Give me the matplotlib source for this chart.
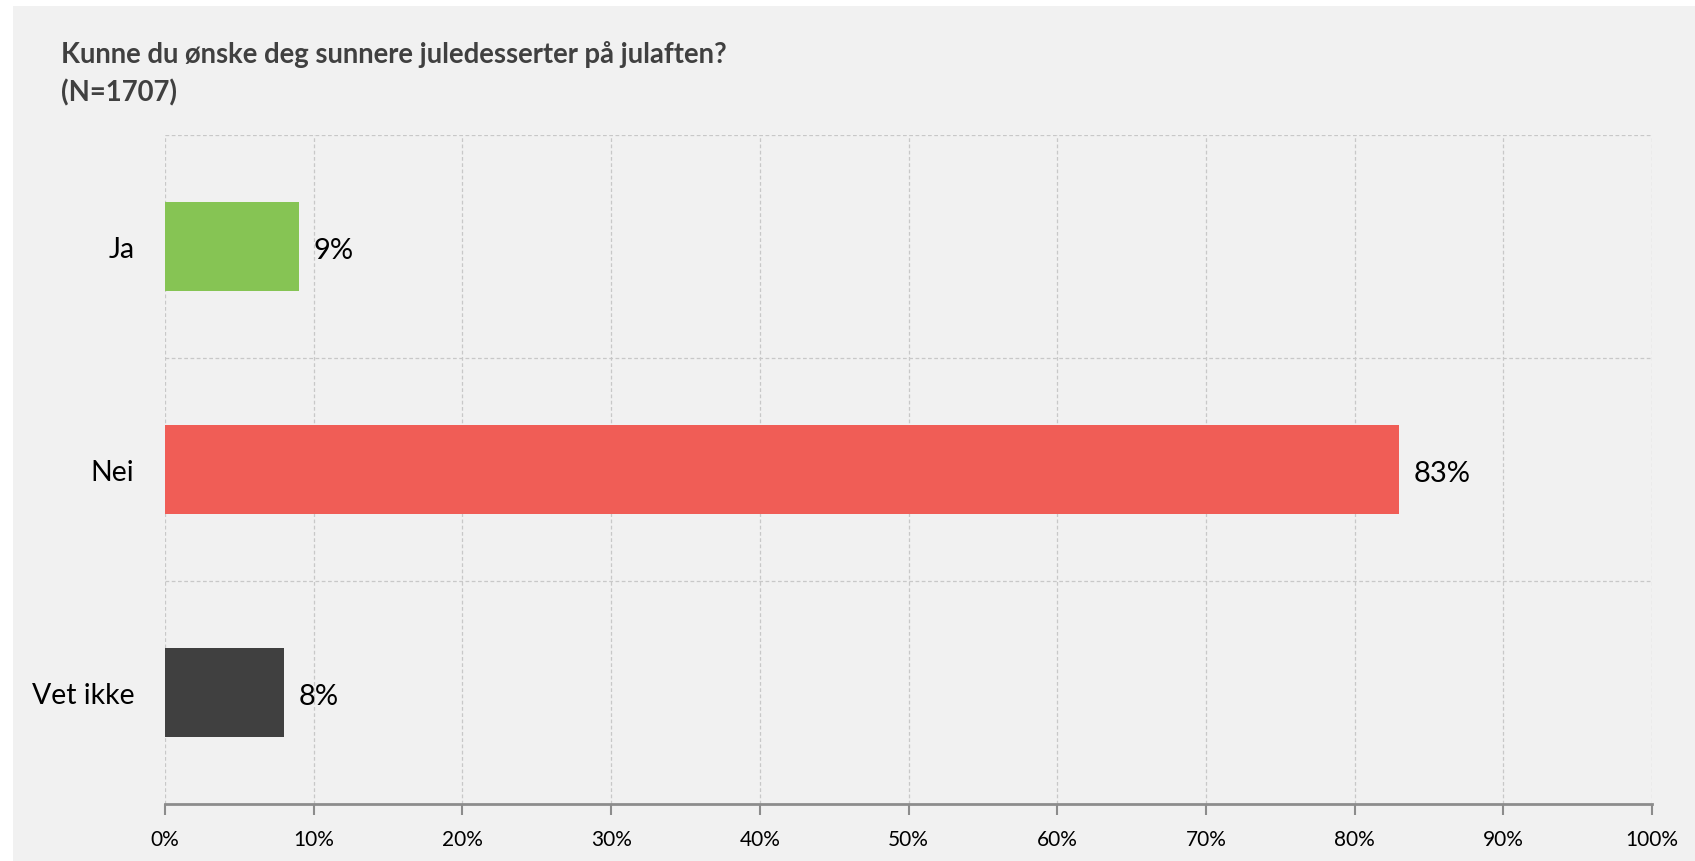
import matplotlib.pyplot as plt
from matplotlib.patches import Rectangle
from matplotlib.ticker import PercentFormatter

categories = ["Ja", "Nei", "Vet ikke"]
values = [9, 83, 8]
colors = ["#86C454", "#F05D56", "#404040"]
ticks = list(range(0, 101, 10))

plt.rcParams['font.family'] = ['Lato', 'DejaVu Sans']

fig = plt.figure(figsize=(16.95, 8.62), dpi=100)
fig.patch.set_facecolor("white")
W, H = 1695, 862
# grey panel, with a small white margin top and left
fig.patches.append(Rectangle((13 / W, 0), 1 - 13 / W, 1 - 7 / H,
                             transform=fig.transFigure, facecolor="#F1F1F1",
                             edgecolor="none", zorder=-1))

ax = fig.add_axes([165 / W, 1 - 805 / H, (1652 - 165) / W, (805 - 136) / H])
ax.set_zorder(2)
ax.set_facecolor("none")

ypos = list(range(len(categories)))
ax.barh(ypos, values, height=0.4, color=colors, zorder=3)
ax.set_xlim(0, 100)
ax.set_ylim(len(categories) - 0.5, -0.5)

ax.set_yticks(ypos)
ax.set_yticklabels(categories, fontsize=20.5)
ax.tick_params(axis="y", length=0, pad=22)
ax.set_xticks(ticks)
ax.xaxis.set_major_formatter(PercentFormatter(decimals=0))
ax.tick_params(axis="x", length=8, width=1.5, color="#8C8C8C", labelsize=15, pad=10)

# dashed grid, vertical at ticks and horizontal between categories
for t in ticks:
    ax.axvline(t, color="#C8C8C8", lw=0.9, ls=(0, (3, 2)), zorder=1)
for b in [-0.5, 0.5, 1.5]:
    ax.axhline(b, color="#C8C8C8", lw=0.9, ls=(0, (3, 2)), zorder=1)

for s in ["top", "right", "left"]:
    ax.spines[s].set_visible(False)
ax.spines["bottom"].set_color("#8C8C8C")
ax.spines["bottom"].set_linewidth(2)

for y, v in zip(ypos, values):
    ax.text(v + 1, y + 0.015, f"{v}%", va="center", ha="left", fontsize=21, color="black")

fig.text(61 / W, 1 - 55 / H, "Kunne du ønske deg sunnere juledesserter på julaften?",
         fontsize=19.8, fontweight="bold", color="#404040", va="center", ha="left")
fig.text(61 / W, 1 - 93 / H, "(N=1707)",
         fontsize=19.8, fontweight="bold", color="#404040", va="center", ha="left")

plt.savefig("out.png", dpi=100)
